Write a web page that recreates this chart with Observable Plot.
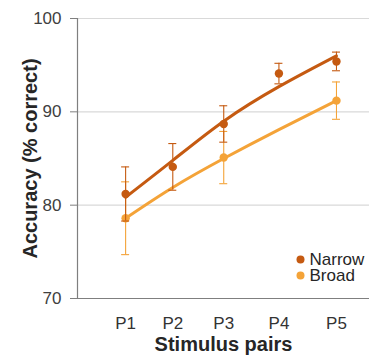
<!DOCTYPE html>
<html>
<head>
<meta charset="utf-8">
<script src="https://cdn.jsdelivr.net/npm/d3@7"></script>
<script src="https://cdn.jsdelivr.net/npm/@observablehq/plot@0.6"></script>
<style>
  html, body { margin: 0; padding: 0; background: #fff; }
  #chart svg { display: block; }
</style>
</head>
<body>
<div id="chart"></div>
<script>
// Stimulus pairs (category labels and their horizontal position value)
const pairs = ["P1", "P2", "P3", "P4", "P5"];
const pairX = [1, 2, 3.08, 4.25, 5.47];

// Narrow condition: means and error (±)
const narrowMean = [81.2, 84.1, 88.7, 94.1, 95.4];
const narrowErr  = [2.9, 2.5, 1.95, 1.1, 1.0];
const narrowFit  = [80.85, 84.8, 89.0, 92.7, 96.0];

// Broad condition: means and error (±); only P1, P3, P5 measured
const broadMean = [78.6, null, 85.1, null, 91.2];
const broadErr  = [3.9, null, 2.8, null, 2.0];
const broadFit  = [78.6, 81.9, 85.0, 88.1, 91.2];

const yTicks = [70, 80, 90, 100];
const yGrid = [80, 90, 100];
const seriesNames = ["Narrow", "Broad"];
const colors = {Narrow: "#c55a11", Broad: "#f4a338"};

const points = [];
const fits = [];
pairs.forEach((p, i) => {
  if (narrowMean[i] != null) points.push({series: "Narrow", x: pairX[i], y: narrowMean[i], e: narrowErr[i]});
  if (broadMean[i] != null) points.push({series: "Broad", x: pairX[i], y: broadMean[i], e: broadErr[i]});
  fits.push({series: "Narrow", x: pairX[i], y: narrowFit[i]});
  fits.push({series: "Broad", x: pairX[i], y: broadFit[i]});
});
const xDomain = [-0.02, 6.17];

function seriesMarks(name) {
  const pts = points.filter(d => d.series === name);
  const ln = fits.filter(d => d.series === name);
  const c = colors[name];
  return [
    Plot.ruleX(pts, {x: "x", y1: d => d.y - d.e, y2: d => d.y + d.e, stroke: c, strokeWidth: 1.1}),
    Plot.ruleY(pts, {y: d => d.y + d.e, x1: "x", x2: "x", insetLeft: -4, insetRight: -4, stroke: c, strokeWidth: 1.1}),
    Plot.ruleY(pts, {y: d => d.y - d.e, x1: "x", x2: "x", insetLeft: -4, insetRight: -4, stroke: c, strokeWidth: 1.1}),
    Plot.line(ln, {x: "x", y: "y", stroke: c, strokeWidth: 3, curve: "natural"}),
    Plot.dot(pts, {x: "x", y: "y", r: 4.2, fill: c, stroke: "none"})
  ];
}

const chart = Plot.plot({
  width: 379,
  height: 361,
  marginLeft: 77,
  marginRight: 10,
  marginTop: 18,
  marginBottom: 63,
  style: {fontFamily: "Arial, 'Liberation Sans', sans-serif", fontSize: "17px", color: "#404040", background: "#fff"},
  x: {domain: xDomain, label: null},
  y: {domain: [70, 100], label: null},
  marks: [
    Plot.ruleY(yGrid, {stroke: "#d9d9d9", strokeWidth: 1.2}),
    Plot.ruleY([70], {stroke: "#7f7f7f", strokeWidth: 1.2}),
    Plot.ruleX([xDomain[0]], {y1: 70, y2: 100, stroke: "#7f7f7f", strokeWidth: 1.2}),
    Plot.axisY(yTicks, {tickSize: 7, tickPadding: 9, stroke: "#7f7f7f", fill: "#404040", fontSize: 17, label: null}),
    Plot.axisX(pairX, {tickSize: 0, tickPadding: 18, tickFormat: d => pairs[pairX.indexOf(d)], fill: "#333", fontSize: 17, label: null}),
    ...seriesMarks("Broad"),
    ...seriesMarks("Narrow"),
    // axis titles
    Plot.text(["Stimulus pairs"], {frameAnchor: "bottom", dy: 52, textAnchor: "middle", lineAnchor: "bottom", fontWeight: "bold", fontSize: 20, fill: "#262626"}),
    Plot.text(["Accuracy (% correct)"], {frameAnchor: "left", dx: -47, rotate: -90, textAnchor: "middle", lineAnchor: "middle", fontWeight: "bold", fontSize: 20, fill: "#262626"}),
    // legend
    Plot.dot([seriesNames[0]], {frameAnchor: "bottom-right", dx: -69, dy: -39, r: 4, fill: colors.Narrow}),
    Plot.dot([seriesNames[1]], {frameAnchor: "bottom-right", dx: -69, dy: -23, r: 4, fill: colors.Broad}),
    Plot.text([seriesNames[0]], {frameAnchor: "bottom-right", dx: -60, dy: -39, textAnchor: "start", lineAnchor: "middle", fontSize: 17, fill: "#262626"}),
    Plot.text([seriesNames[1]], {frameAnchor: "bottom-right", dx: -60, dy: -23, textAnchor: "start", lineAnchor: "middle", fontSize: 17, fill: "#262626"})
  ]
});
document.getElementById("chart").appendChild(chart);
</script>
</body>
</html>
